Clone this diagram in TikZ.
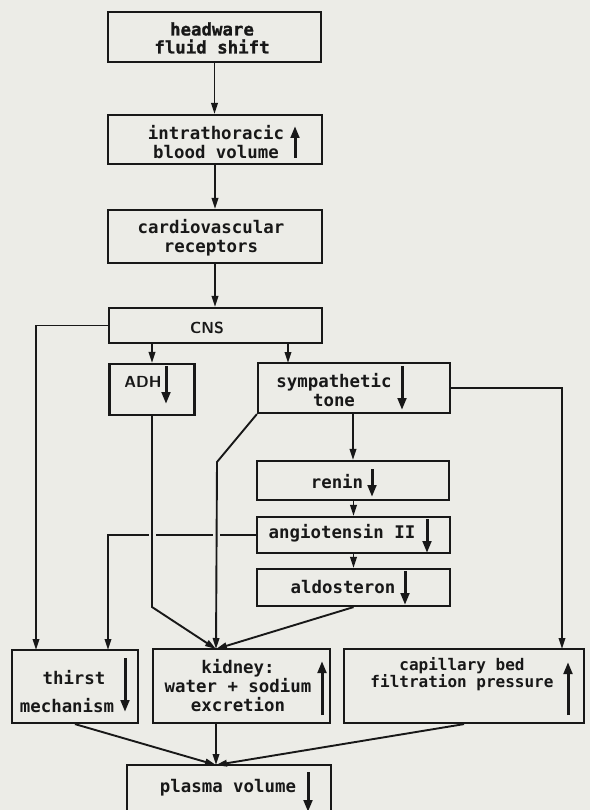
\documentclass[tikz,border=0pt]{standalone}
\usepackage{fontspec}
\newfontfamily\monofam{DejaVu Sans Mono}
\newfontfamily\monoheavy{DejaVu Sans Mono Bold}[FakeBold=1.2]
\usetikzlibrary{arrows.meta,calc}
\definecolor{paper}{RGB}{236,236,231}
\definecolor{ink}{RGB}{24,24,24}
\tikzset{
  box/.style={draw=ink, line width=2.2pt, inner sep=0pt, rectangle},
  txt/.style={font=\monofam\bfseries\fontsize{17.4}{19}\selectfont, text=ink, align=center, inner sep=0pt},
  conn/.style={draw=ink, line width=1.9pt, -{Triangle[length=11pt,width=6.5pt]}},
  bigarrow/.style={draw=ink, line width=3pt, -{Triangle[length=12pt,width=8.5pt]}},
  gap/.style={draw=paper, line width=7pt}
}
\begin{document}
\begin{tikzpicture}[x=1pt,y=-1pt]
\fill[paper] (0,0) rectangle (590,810);
\useasboundingbox (0,0) rectangle (590,810);
\clip (0,0) rectangle (590,810);

% boxes
\node[box, minimum width=213pt, minimum height=50pt] (hw)  at (214.5,37) {};
\node[box, minimum width=214pt, minimum height=49pt] (it)  at (215,139.5) {};
\node[box, minimum width=214pt, minimum height=53pt] (cv)  at (215,236.5) {};
\node[box, minimum width=213pt, minimum height=35pt] (cns) at (215.5,325.5) {};
\node[box, minimum width=85pt,  minimum height=51pt] (adh) at (152,389.5) {};
\node[box, minimum width=192pt, minimum height=50pt] (sym) at (354,388) {};
\node[box, minimum width=192pt, minimum height=39pt] (ren) at (353,480.5) {};
\node[box, minimum width=193pt, minimum height=36pt] (ang) at (353.5,535) {};
\node[box, minimum width=193pt, minimum height=37pt] (ald) at (353.5,587.5) {};
\node[box, minimum width=126pt, minimum height=73pt] (thi) at (75,686.5) {};
\node[box, minimum width=177pt, minimum height=74pt] (kid) at (241.5,686) {};
\node[box, minimum width=240pt, minimum height=74pt] (cap) at (464,686) {};
\node[box, minimum width=204pt, minimum height=50pt] (pla) at (229,790) {};

% texts
\node[txt, font=\monoheavy\fontsize{17.4}{18}\selectfont] (hwT) at (212,38) {headware\\fluid shift};
\node[txt] (itT)  at (216,142) {intrathoracic\\blood volume};
\node[txt] (cvT)  at (211,238) {cardiovascular\\receptors};
\node[txt, font=\sffamily\bfseries\fontsize{16}{18}\selectfont] (cnsT) at (207,328) {CNS};
\node[txt, font=\sffamily\bfseries\fontsize{16}{18}\selectfont] (adhT) at (143,382) {ADH};
\node[txt] (symT) at (334,390) {sympathetic\\tone};
\node[txt] (renT) at (337,482) {renin};
\node[txt] (angT) at (342,533) {angiotensin II};
\node[txt] (aldT) at (343,587) {aldosteron};
\node[txt] (thiT1) at (74,678) {thirst};
\node[txt] (thiT2) at (67,706) {mechanism};
\node[txt] (kidT) at (238,686) {kidney:\\water + sodium\\excretion};
\node[txt, font=\monofam\bfseries\fontsize{16}{16}\selectfont] (capT) at (462,674) {capillary bed\\filtration pressure};
\node[txt] (plaT) at (228,788) {plasma volume};

% inner arrows
\draw[bigarrow] (295,158) -- (295,126);
\draw[bigarrow] (166,366) -- (166,404);
\draw[bigarrow] (402,366) -- (402,410);
\draw[bigarrow] (372,469) -- (372,497);
\draw[bigarrow] (427,519) -- (427,553);
\draw[bigarrow] (405,571) -- (405,605);
\draw[bigarrow] (125,658) -- (125,712);
\draw[bigarrow] (322,715) -- (322,661);
\draw[bigarrow] (568,715) -- (568,662);
\draw[bigarrow] (308,772) -- (308,812);

% coordinates
\coordinate (symIn) at (288,363);
\coordinate (thiA) at (36,650);
\coordinate (thiB) at (108,650);
\coordinate (kin) at (216,649);
\coordinate (adhK) at (152,607);
\coordinate (symK) at (217,462);
\coordinate (capIn) at (562,649);
\coordinate (pin) at (216,765);

% main chain
\draw[conn] (hw.south) -- (hw.south |- it.north);
\draw[conn] (it.south) -- (it.south |- cv.north);
\draw[conn] (cv.south) -- (cv.south |- cns.north);
\draw[conn] (cns.south -| adh.north) -- (adh.north);
\draw[conn] (cns.south -| symIn) -- (symIn);
\draw[conn] (sym.south -| ren.north) -- (ren.north);
\draw[conn] (ren.south -| ang.north) -- (ang.north);
\draw[conn] (ang.south -| ald.north) -- (ald.north);

% side branches
\draw[conn] (cns.west) -| (thiA);
\draw[conn] (ang.west) -| (thiB);
\draw[gap] (152,532) -- (152,538);
\draw[gap] (216.6,532) -- (216.6,538);
\draw[conn] (adh.south) -- (adhK) -- (kin);
\draw[conn] (sym.south west) -- (symK) -- (kin);
\draw[conn] (ald.south) -- (kin);
\draw[conn] (sym.east) -| (capIn);

% to plasma volume
\draw[conn] (thi.south) -- (pin);
\draw[conn] (kin |- kid.south) -- (pin);
\draw[conn] (cap.south) -- (pin);
\end{tikzpicture}
\end{document}
